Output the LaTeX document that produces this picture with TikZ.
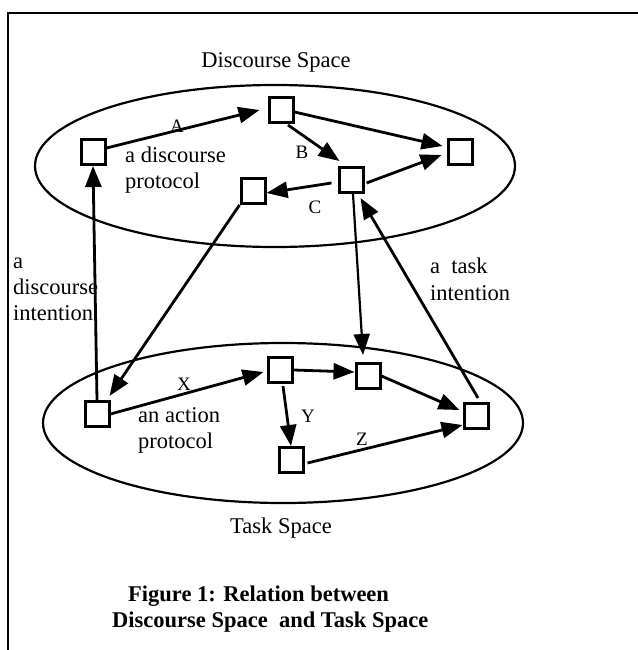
\documentclass[tikz,border=0pt]{standalone}
\usepackage{fontspec}
\setmainfont{Liberation Serif}
\usetikzlibrary{arrows.meta,calc}
\begin{document}
\begin{tikzpicture}[x=1pt,y=-1pt,
  box/.style={draw,line width=3pt,minimum width=24pt,minimum height=25pt,inner sep=0pt},
  arr/.style={line width=2.8pt,-{Triangle[length=21pt,width=16pt]}},
  thinarr/.style={line width=2.2pt,-{Triangle[length=21pt,width=16pt]}},
  lbl/.style={font=\fontsize{22.5}{27}\selectfont,inner sep=0pt,anchor=base west},
  letter/.style={font=\fontsize{19}{22}\selectfont,inner sep=0pt,anchor=base},
  ttl/.style={font=\fontsize{22.5}{27}\selectfont,inner sep=0pt,anchor=base},
  captext/.style={font=\fontsize{22.5}{27}\selectfont\bfseries,inner sep=0pt,anchor=base west},
  spaceline/.style={line width=2.2pt}]
\useasboundingbox (0,0) rectangle (637,650);
\fill[white] (0,0) rectangle (637,650);
% frame
\draw[line width=2.6pt] (8,660) -- (8,13) -- (650,13);
% spaces
\draw[spaceline] (275,166) ellipse [x radius=240pt, y radius=81pt];
\draw[spaceline] (283,423) ellipse [x radius=240pt, y radius=80pt];
\node[ttl] (dtitle) at (276,68) {Discourse Space};
\node[ttl] (ttitle) at (281,533) {Task Space};
% discourse boxes
\node[box] (D1) at (93,152) {};
\node[box] (D2) at (281,110) {};
\node[box] (D3) at (460,152) {};
\node[box] (D4) at (351,180) {};
\node[box] (D5) at (253,191) {};
% task boxes
\node[box] (T1) at (97,414) {};
\node[box] (T2) at (280,370) {};
\node[box] (T3) at (368,376) {};
\node[box] (T4) at (476,416) {};
\node[box] (T5) at (291,460) {};
% discourse arrows
\draw[arr] ($(D1.east)+(0,-4)$) -- ($(D2.west)+(-8,0)$);
\draw[arr] ($(D2.east)+(0,2)$) -- ($(D3.west)+(-4,-6)$);
\draw[arr] ($(D2.south)+(7,1)$) -- ($(D4.north west)+(2,-5)$);
\draw[arr] ($(D4.east)+(2,3)$) -- ($(D3.west)+(-5,3)$);
\draw[arr] ($(D4.west)+(-6,3)$) -- ($(D5.east)+(0,2)$);
% between spaces
\draw[arr] (D5.south west) -- ($(T1.north east)+(-1,-4)$);
\draw[thinarr] ($(D4.south)+(2,0)$) -- ($(T3.north)+(-5,-7)$);
\draw[arr] ($(T4.north)+(2,-4)$) -- ($(D4.south east)+(-4,4)$);
\draw[arr] (T1.north) -- (D1.south);
% task arrows
\draw[arr] (T1.east) -- ($(T2.west)+(-3,2)$);
\draw[arr] (T2.east) -- ($(T3.west)+(0,-4)$);
\draw[arr] (T3.east) -- ($(T4.west)+(-3,-6)$);
\draw[arr] ($(T2.south)+(3,2)$) -- (T5.north);
\draw[arr] ($(T5.east)+(3,3)$) -- ($(T4.west)+(0,9)$);
% letters
\node[letter] (lA) at (177,132) {A};
\node[letter] (lB) at (302,158) {B};
\node[letter] (lC) at (315,213) {C};
\node[letter] (lX) at (184,390) {X};
\node[letter] (lY) at (308,422) {Y};
\node[letter] (lZ) at (362,445) {Z};
% texts
\node[lbl] (dp1) at (125,162) {a discourse};
\node[lbl] (dp2) at (125,188) {protocol};
\node[lbl] (ap1) at (138,422) {an action};
\node[lbl] (ap2) at (138,448) {protocol};
\node[lbl] (di1) at (13,268) {a};
\node[lbl] (di2) at (13,294) {discourse};
\node[lbl] (di3) at (13,320) {intention};
\node[lbl] (ti1) at (430,273) {a\ \ task};
\node[lbl] (ti2) at (430,300) {intention};
% caption
\node[captext] (cap1) at (128,601) {Figure 1: Relation between};
\node[captext] (cap2) at (112,627) {Discourse Space\ \ and Task Space};
\end{tikzpicture}
\end{document}
